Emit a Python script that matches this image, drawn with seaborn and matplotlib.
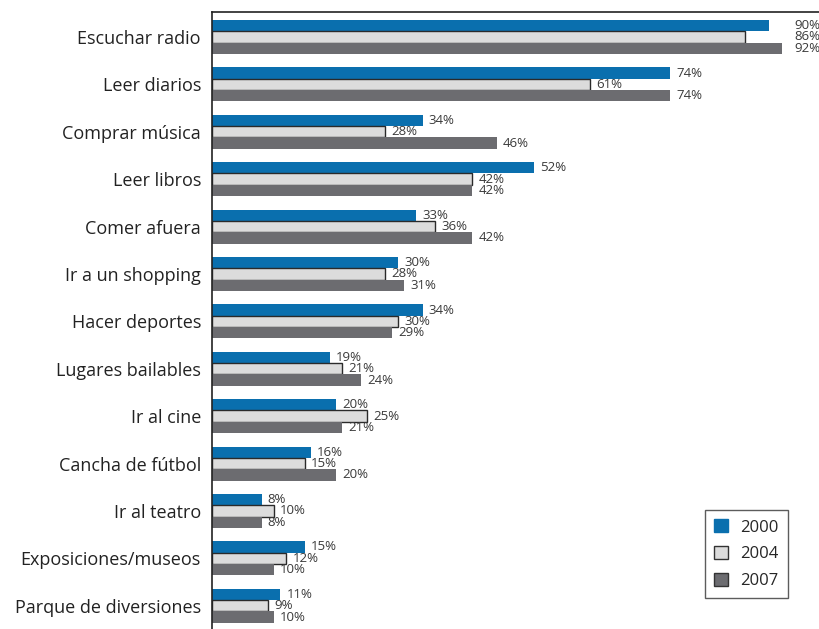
import matplotlib
matplotlib.use("Agg")
import matplotlib.pyplot as plt
import seaborn as sns
import pandas as pd
from matplotlib.patches import Patch

categories = [
    "Escuchar radio", "Leer diarios", "Comprar música", "Leer libros",
    "Comer afuera", "Ir a un shopping", "Hacer deportes", "Lugares bailables",
    "Ir al cine", "Cancha de fútbol", "Ir al teatro", "Exposiciones/museos",
    "Parque de diversiones",
]
years = ["2000", "2004", "2007"]
v2000 = [90, 74, 34, 52, 33, 30, 34, 19, 20, 16, 8, 15, 11]
v2004 = [86, 61, 28, 42, 36, 28, 30, 21, 25, 15, 10, 12, 9]
v2007 = [92, 74, 46, 42, 42, 31, 29, 24, 21, 20, 8, 10, 10]

colors = {"2000": "#0a6fae", "2004": "#dcdcdc", "2007": "#6c6c70"}
edges = {"2000": "none", "2004": "#2a2a2a", "2007": "none"}

rows = []
for yr, vals in zip(years, [v2000, v2004, v2007]):
    for cat, v in zip(categories, vals):
        rows.append({"actividad": cat, "año": yr, "valor": v})
df = pd.DataFrame(rows)

sns.set_theme(style="white")
plt.rcParams["font.family"] = ["Open Sans", "DejaVu Sans"]

W, H = 819, 629
fig = plt.figure(figsize=(W / 100, H / 100), dpi=100)
ax = fig.add_axes([212 / W, 0, (W - 212) / W, (H - 12) / H])

sns.barplot(data=df, y="actividad", x="valor", hue="año", order=categories,
            hue_order=years, palette=colors, orient="h", width=0.72, gap=0,
            saturation=1, legend=False, ax=ax)

# per-series edge styling
for yr, cont in zip(years, ax.containers):
    for p in cont.patches:
        p.set_edgecolor(edges[yr])
        p.set_linewidth(1.0 if edges[yr] != "none" else 0)

# value labels from the data
for yr, cont, vals in zip(years, ax.containers, [v2000, v2004, v2007]):
    for i, (p, v) in enumerate(zip(cont.patches, vals)):
        group = [v2000[i], v2004[i], v2007[i]]
        xpos = max(group) + 2 if max(group) > 85 else v + 1
        yc = p.get_y() + p.get_height() / 2
        ax.text(xpos, yc, f"{v}%", ha="left", va="center", fontsize=9.5,
                color="#3a3a3a")

ax.set_xlim(0, 98)
ax.set_ylim(12.49, -0.527)
ax.set_xlabel("")
ax.set_ylabel("")
ax.set_xticks([])
ax.tick_params(axis="y", length=0, pad=8, labelsize=13, labelcolor="#222222")

for side in ["right", "bottom"]:
    ax.spines[side].set_visible(False)
for side in ["left", "top"]:
    ax.spines[side].set_visible(True)
    ax.spines[side].set_color("#222222")
    ax.spines[side].set_linewidth(1.2)

handles = [Patch(facecolor=colors[y],
                 edgecolor=("#333333" if y != "2000" else colors[y]),
                 linewidth=1.0, label=y) for y in years]
leg = fig.legend(handles=handles, loc="upper left",
                 bbox_to_anchor=(705 / W, 1 - 510 / H), frameon=True,
                 fancybox=False, fontsize=12, handlelength=0.85,
                 handleheight=0.85, handletextpad=0.7, labelspacing=0.62,
                 borderpad=0.55, borderaxespad=0)
leg.get_frame().set_edgecolor("#333333")
leg.get_frame().set_linewidth(1.0)

fig.savefig("out.png", dpi=100)
